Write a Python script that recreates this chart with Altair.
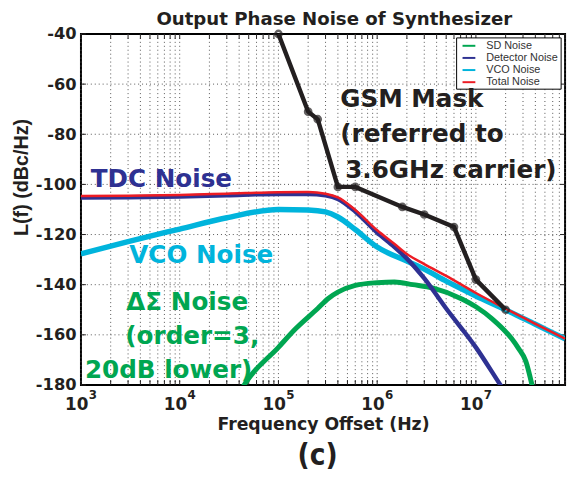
import altair as alt
import pandas as pd

# ---------------- data ----------------
det_f = [1e3, 3e3, 1e4, 3e4, 1e5, 2e5, 3e5, 4e5, 6e5, 1e6, 1.5e6, 2e6, 3e6, 5e6, 1e7, 1.77e7, 2.5e7]
det_v = [-105.2, -105.1, -104.8, -104.3, -103.8, -103.8, -104.4, -105.8, -110.8, -119.2, -125.0, -129.6, -137.5, -149.5, -165.0, -180, -189]

vco_f = [1e3, 3e3, 1e4, 3e4, 1e5, 2e5, 3e5, 4e5, 6e5, 1e6, 2e6, 3e6, 5e6, 1e7, 2e7, 4e7, 8e7]
vco_v = [-127.7, -122.8, -117.8, -113.3, -110.0, -110.2, -111.0, -113.0, -118.0, -125.0, -130.6, -133.8, -138.6, -144.5, -150.0, -155.8, -161.6]

sd_f = [4.2e4, 4.5e4, 1e5, 1.5e5, 2.5e5, 3.2e5, 4e5, 6e5, 1e6, 1.5e6, 2.3e6, 3.7e6, 7.3e6, 1e7, 1.46e7, 2.3e7, 2.7e7, 3.2e7, 3.7e7, 3.9e7]
sd_v = [-182, -180, -165, -157.5, -149.5, -145.5, -143, -140.3, -139.2, -138.9, -140, -141.4, -145.8, -148.8, -153.6, -161.5, -165.4, -170.5, -180, -184]

tot_f = [1e3, 3e3, 1e4, 3e4, 1e5, 2e5, 3e5, 4e5, 6e5, 1e6, 1.5e6, 2e6, 3e6, 5e6, 1e7, 2e7, 4e7, 8e7]
tot_v = [-104.6, -104.5, -104.2, -103.7, -103.1, -103.0, -103.7, -105.2, -110.2, -118.3, -123.8, -127.8, -131.8, -136.5, -143.3, -149.6, -155.6, -161.5]

mask_f = [1e5, 2e5, 2.5e5, 4e5, 6e5, 1.8e6, 3e6, 6e6, 1e7, 2e7]
mask_v = [-40, -71, -74, -101, -101, -109, -112, -117, -138, -150]

series_names = ["SD Noise", "Detector Noise", "VCO Noise", "Total Noise"]
series_colors = ["#00A651", "#2E3192", "#00B4DC", "#ED1C24"]

decades = [1e3, 1e4, 1e5, 1e6, 1e7]
exponents = ["3", "4", "5", "6", "7"]
minor_x = [m * d for d in [1e3, 1e4, 1e5, 1e6, 1e7] for m in range(1, 10) if m * d <= 8e7]
y_ticks = [-180, -160, -140, -120, -100, -80, -60, -40]

# ---------------- layout ----------------
W, H = 491, 356
BOLD = "DejaVu Sans"
INK = "#231F20"

xs = alt.Scale(type="log", domain=[1e3, 8e7], nice=False)
ys = alt.Scale(domain=[-180, -40], nice=False, zero=False)
cs = alt.Scale(domain=series_names, range=series_colors)

x_axis = alt.Axis(values=decades, labelExpr="'10'", labelFont=BOLD, labelFontWeight="bold",
                  labelFontSize=17, labelColor=INK, labelAlign="right", labelOffset=7,
                  labelPadding=12, ticks=False, domain=False, grid=False, title=None)
y_axis = alt.Axis(values=y_ticks,
                  labelExpr="datum.value < 0 ? '-' + abs(datum.value) : '' + datum.value",
                  labelFont=BOLD, labelFontWeight="bold", labelFontSize=16.5,
                  labelColor=INK, labelPadding=5, ticks=False, domain=False, grid=False,
                  title="L(f) (dBc/Hz)", titleFont="Liberation Sans", titleFontWeight="bold",
                  titleFontSize=20, titleColor=INK, titleX=-60, titleY=145,
                  titleAlign="center", titleBaseline="middle", titleAngle=270)


def xenc(field="f"):
    return alt.X(f"{field}:Q", scale=xs, axis=x_axis)


def yenc(field="v"):
    return alt.Y(f"{field}:Q", scale=ys, axis=y_axis)


def series_df(name, f, v):
    return pd.DataFrame({"f": f, "v": v, "series": name})


# grid
vgrid = alt.Chart(pd.DataFrame({"f": minor_x})).mark_rule(
    color="#555555", strokeWidth=1, strokeDash=[1, 3]).encode(x=xenc())
hgrid = alt.Chart(pd.DataFrame({"v": y_ticks[1:-1]})).mark_rule(
    color="#555555", strokeWidth=1, strokeDash=[1, 3]).encode(y=yenc())

# inward ticks
tick_df = pd.DataFrame({"f": minor_x})
tick_b = alt.Chart(tick_df).mark_rule(color=INK, strokeWidth=1).encode(
    x=xenc(), y=alt.value(H), y2=alt.value(H - 5))
tick_t = alt.Chart(tick_df).mark_rule(color=INK, strokeWidth=1).encode(
    x=xenc(), y=alt.value(0), y2=alt.value(5))
ytick_df = pd.DataFrame({"v": y_ticks})
tick_l = alt.Chart(ytick_df).mark_rule(color=INK, strokeWidth=1).encode(
    y=yenc(), x=alt.value(0), x2=alt.value(5))
tick_r = alt.Chart(ytick_df).mark_rule(color=INK, strokeWidth=1).encode(
    y=yenc(), x=alt.value(W), x2=alt.value(W - 5))


def curve(name, f, v, width):
    return alt.Chart(series_df(name, f, v)).mark_line(
        strokeWidth=width, clip=True, interpolate="monotone").encode(
        x=xenc(), y=yenc(), color=alt.Color("series:N", scale=cs, legend=None))


sd_line = curve("SD Noise", sd_f, sd_v, 5)
vco_line = curve("VCO Noise", vco_f, vco_v, 5.5)
det_line = curve("Detector Noise", det_f, det_v, 4.5)
tot_line = curve("Total Noise", tot_f, tot_v, 2.5)

mask_df = pd.DataFrame({"f": mask_f, "v": mask_v})
mask_line = alt.Chart(mask_df).mark_line(color=INK, strokeWidth=4.5).encode(x=xenc(), y=yenc())
mask_pts = alt.Chart(mask_df).mark_point(shape="circle", filled=False, color=INK,
                                         strokeWidth=2.5, size=40).encode(x=xenc(), y=yenc())

# exponents of x tick labels
exp_df = pd.DataFrame({"f": decades, "e": exponents})
exp_txt = alt.Chart(exp_df).mark_text(font=BOLD, fontWeight="bold", fontSize=12, color=INK,
                                      align="left", baseline="middle", dx=8).encode(
    x=xenc(), y=alt.value(H + 10), text="e:N")

one = pd.DataFrame({"a": [0]})


def label(text, px, py, color, size=25, font=BOLD, align="left", weight="bold"):
    return alt.Chart(one).mark_text(
        font=font, fontWeight=weight, fontSize=size, color=color, align=align,
        baseline="middle").encode(x=alt.value(px), y=alt.value(py), text=alt.value(text))


# legend box (MATLAB style, top right inside the axes)
LX, LY, LW, LH, ROW = 381, 4, 106, 52, 12.3
legend_layers = [
    alt.Chart(one).mark_rect(fill="white", stroke="black", strokeWidth=1).encode(
        x=alt.value(LX), x2=alt.value(LX + LW), y=alt.value(LY), y2=alt.value(LY + LH))
]
for i, (name, col) in enumerate(zip(series_names, series_colors)):
    yy = LY + 8 + i * ROW
    legend_layers.append(
        alt.Chart(one).mark_rule(color=col, strokeWidth=2).encode(
            x=alt.value(LX + 6), x2=alt.value(LX + 19), y=alt.value(yy)))
    legend_layers.append(label(name, LX + 30, yy, "#333333", 11, "Liberation Sans",
                               weight="normal"))

texts = [
    label("Output Phase Noise of Synthesizer", 257, -15, INK, 18.4, align="center"),
    label("TDC Noise", 10, 147, "#2E3192"),
    label("VCO Noise", 49, 224, "#00B4DC"),
    label("ΔΣ Noise", 46, 272, "#00A651"),
    label("(order=3,", 45, 306, "#00A651"),
    label("20dB lower)", 4, 341, "#00A651"),
    label("GSM Mask", 263, 66, INK),
    label("(referred to", 263, 102, INK),
    label("3.6GHz carrier)", 268, 138, INK),
    label("Frequency Offset (Hz)", 246, 397, INK, 17.5, align="center"),
    label("(c)", 240, 428, INK, 30, font="Liberation Sans Narrow, DejaVu Sans Condensed, Liberation Sans",
          align="center"),
]

chart = alt.layer(
    vgrid, hgrid, tick_b, tick_t, tick_l, tick_r,
    sd_line, vco_line, det_line, tot_line, mask_line, mask_pts, exp_txt,
    *legend_layers, *texts
).properties(
    width=W, height=H,
    autosize=alt.AutoSizeParams(type="none"),
    padding={"left": 74, "top": 23, "right": 5, "bottom": 90},
    background="white",
).configure_view(
    stroke="black", strokeWidth=2
)

chart.save("out.html", embed_options={"renderer": "svg", "actions": False})
